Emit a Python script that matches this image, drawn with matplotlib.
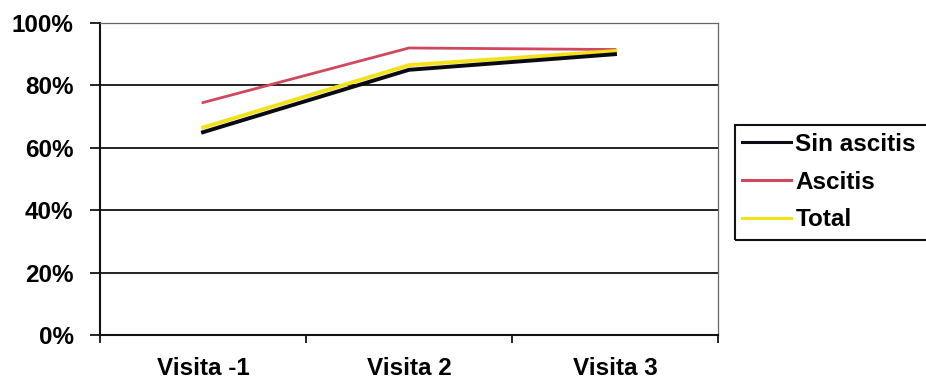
import matplotlib.pyplot as plt
from matplotlib.patches import Rectangle
import numpy as np

categories = ['Visita -1', 'Visita 2', 'Visita 3']
sin_ascitis = [65, 85, 90]
ascitis = [74.5, 92, 91.5]
total = [66.5, 86.5, 91]

plt.rcParams['font.family'] = ['Liberation Sans', 'DejaVu Sans']
plt.rcParams['font.weight'] = 'bold'
fs = 17.5

fig = plt.figure(figsize=(9.26, 3.84), dpi=100)
ax = fig.add_axes([100/926, 1-335/384, 618/926, (335-23)/384])

x = np.arange(len(categories))
ax.plot(x, sin_ascitis, color='#0a0a14', lw=2.8, label='Sin ascitis', zorder=4)
ax.plot(x, total, color='#f2e21c', lw=2.8, label='Total', zorder=3)
ax.plot(x, ascitis, color='#d0475e', lw=2.0, label='Ascitis', zorder=2)

ax.set_xlim(-0.5, 2.5)
ax.set_ylim(0, 100)
ax.set_yticks([0, 20, 40, 60, 80, 100])
ax.set_yticklabels(['%d%%' % v for v in [0, 20, 40, 60, 80, 100]], fontsize=fs, fontweight='bold')
ax.set_xticks([-0.5, 0.5, 1.5, 2.5])
ax.set_xticklabels([])
ax.set_xticks(x, minor=True)
ax.set_xticklabels(categories, minor=True, fontsize=fs, fontweight='bold')
ax.tick_params(axis='x', which='minor', length=0, pad=16)
ax.tick_params(axis='x', which='major', direction='out', length=6, width=1.2)
ax.tick_params(axis='y', direction='out', length=7, width=1.2, pad=12)

ax.yaxis.grid(True, color='#111111', lw=1.3)
ax.set_axisbelow(True)
for s in ['top', 'right']:
    ax.spines[s].set_color('#666666')
    ax.spines[s].set_linewidth(0.9)
for s in ['left', 'bottom']:
    ax.spines[s].set_color('#111111')
    ax.spines[s].set_linewidth(1.5)

# legend box runs past the right edge, as in the scan
fig.patches.append(Rectangle((735/926, 1-240/384), 200/926, 115/384,
                             transform=fig.transFigure, fill=False,
                             edgecolor='#111111', lw=1.5))
h, l = ax.get_legend_handles_labels()
order = [0, 2, 1]
leg = fig.legend([h[i] for i in order], [l[i] for i in order],
                 loc='upper left', bbox_to_anchor=(742/926, 1-133/384),
                 prop={'weight': 'bold', 'size': fs},
                 frameon=False, handlelength=2.0, handletextpad=0.2,
                 labelspacing=0.6, borderpad=0, borderaxespad=0)
for line in leg.get_lines():
    line.set_linewidth(2.2)

fig.savefig('out.png', dpi=100)
